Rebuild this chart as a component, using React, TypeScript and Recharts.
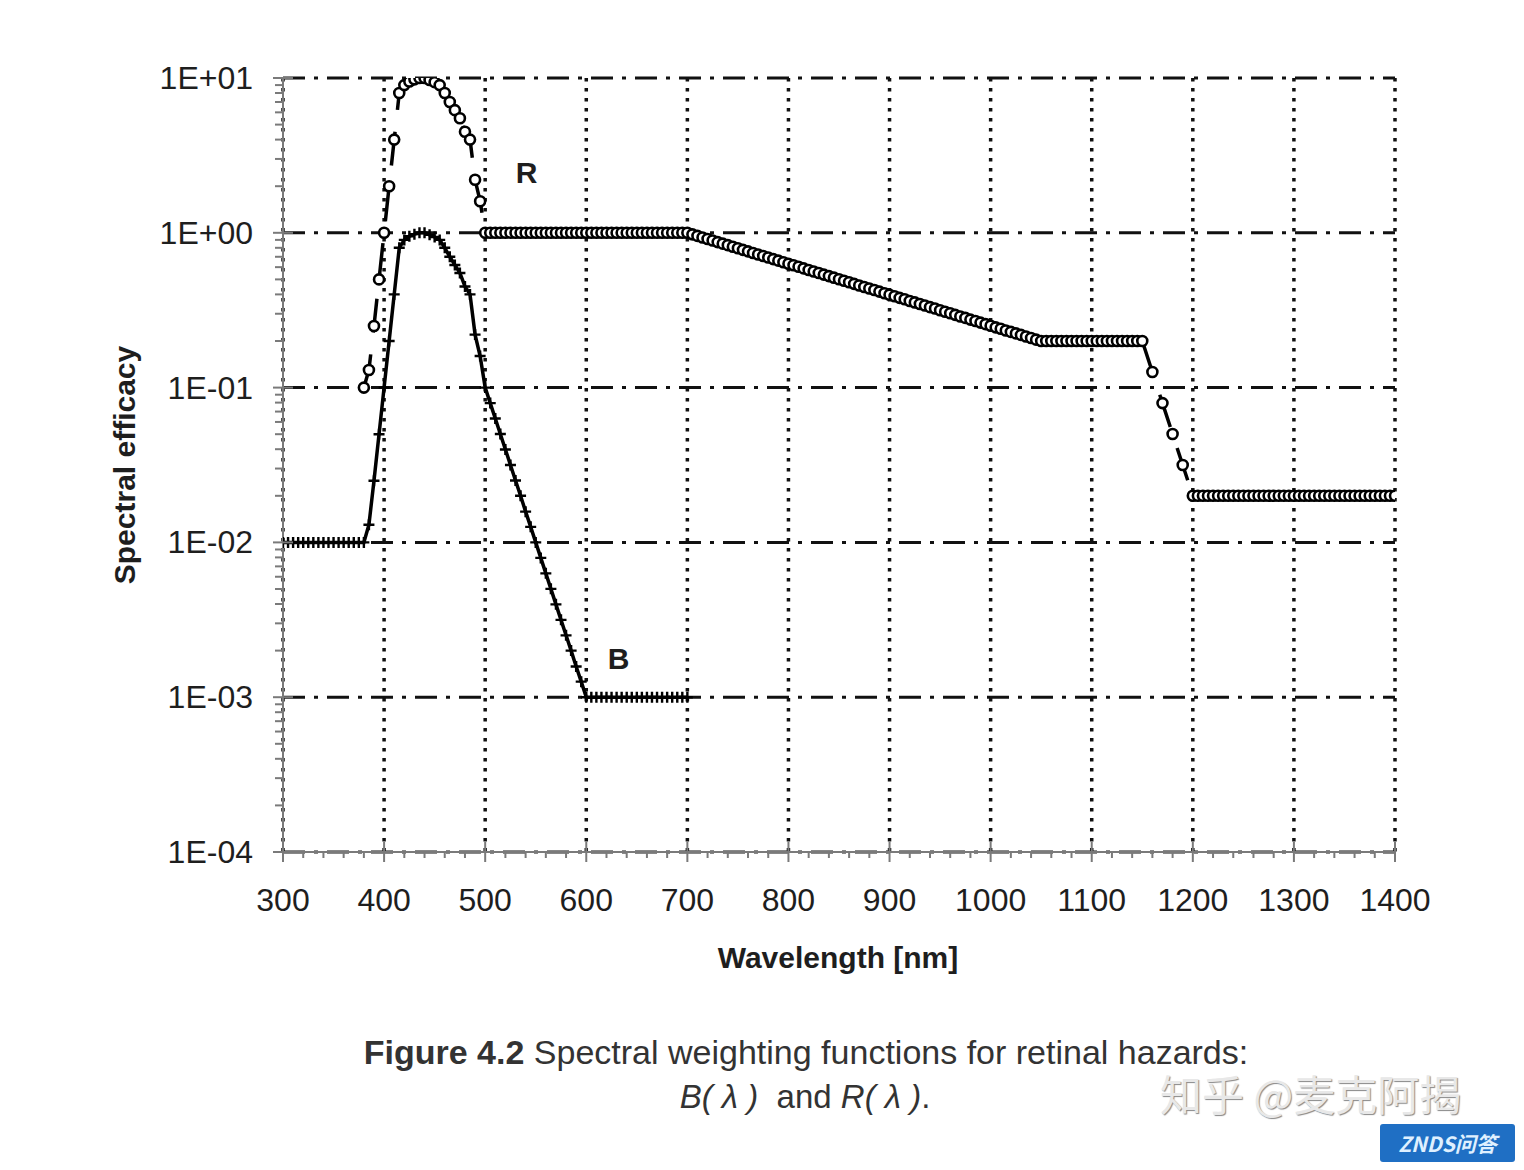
import React from 'react';
import { LineChart, Line, XAxis, YAxis, CartesianGrid, ReferenceDot } from 'recharts';

// Blue-light hazard B(λ)
const bWavelength = [
  300, 305, 310, 315, 320, 325, 330, 335, 340, 345, 350, 355, 360, 365, 370, 375,
  380, 385, 390, 395, 400, 405, 410, 415, 420, 425, 430, 435, 440, 445, 450, 455,
  460, 465, 470, 475, 480, 485, 490, 495, 500, 505, 510, 515, 520, 525, 530, 535,
  540, 545, 550, 555, 560, 565, 570, 575, 580, 585, 590, 595, 600, 605, 610, 615,
  620, 625, 630, 635, 640, 645, 650, 655, 660, 665, 670, 675, 680, 685, 690, 695, 700,
];
const bEfficacy = [
  0.01, 0.01, 0.01, 0.01, 0.01, 0.01, 0.01, 0.01, 0.01, 0.01, 0.01, 0.01, 0.01, 0.01, 0.01, 0.01,
  0.01, 0.013, 0.025, 0.05, 0.1, 0.2, 0.4, 0.8, 0.9, 0.95, 0.98, 1, 1, 0.97, 0.94, 0.9,
  0.8, 0.7, 0.62, 0.55, 0.45, 0.4, 0.22, 0.16, 0.1, 0.0794, 0.0631, 0.0501, 0.0398, 0.0316, 0.0251, 0.02,
  0.0158, 0.0126, 0.01, 0.00794, 0.00631, 0.00501, 0.00398, 0.00316, 0.00251, 0.002, 0.00158, 0.00126, 0.001, 0.001, 0.001, 0.001,
  0.001, 0.001, 0.001, 0.001, 0.001, 0.001, 0.001, 0.001, 0.001, 0.001, 0.001, 0.001, 0.001, 0.001, 0.001, 0.001, 0.001,
];

// Retinal thermal hazard R(λ)
const rWavelength = [
  380, 385, 390, 395, 400, 405, 410, 415, 420, 425, 430, 435, 440, 445, 450, 455, 460, 465, 470, 475, 480, 485, 490, 495,
  500, 505, 510, 515, 520, 525, 530, 535, 540, 545, 550, 555, 560, 565, 570, 575, 580, 585, 590, 595,
  600, 605, 610, 615, 620, 625, 630, 635, 640, 645, 650, 655, 660, 665, 670, 675, 680, 685, 690, 695,
  700, 705, 710, 715, 720, 725, 730, 735, 740, 745, 750, 755, 760, 765, 770, 775, 780, 785, 790, 795,
  800, 805, 810, 815, 820, 825, 830, 835, 840, 845, 850, 855, 860, 865, 870, 875, 880, 885, 890, 895,
  900, 905, 910, 915, 920, 925, 930, 935, 940, 945, 950, 955, 960, 965, 970, 975, 980, 985, 990, 995,
  1000, 1005, 1010, 1015, 1020, 1025, 1030, 1035, 1040, 1045, 1050, 1055, 1060, 1065, 1070, 1075, 1080, 1085, 1090, 1095,
  1100, 1105, 1110, 1115, 1120, 1125, 1130, 1135, 1140, 1145, 1150,
  1160, 1170, 1180, 1190,
  1200, 1205, 1210, 1215, 1220, 1225, 1230, 1235, 1240, 1245, 1250, 1255, 1260, 1265, 1270, 1275, 1280, 1285, 1290, 1295,
  1300, 1305, 1310, 1315, 1320, 1325, 1330, 1335, 1340, 1345, 1350, 1355, 1360, 1365, 1370, 1375, 1380, 1385, 1390, 1395, 1400,
];
const rEfficacy = [
  0.1, 0.13, 0.25, 0.5, 1, 2, 4, 8, 9, 9.5, 9.8, 10, 10, 9.7, 9.4, 9, 8, 7, 6.2, 5.5, 4.5, 4, 2.2, 1.6,
  1, 1, 1, 1, 1, 1, 1, 1, 1, 1, 1, 1, 1, 1, 1, 1, 1, 1, 1, 1,
  1, 1, 1, 1, 1, 1, 1, 1, 1, 1, 1, 1, 1, 1, 1, 1, 1, 1, 1, 1,
  1, 0.977, 0.955, 0.933, 0.912, 0.891, 0.871, 0.851, 0.832, 0.813, 0.794, 0.776, 0.759, 0.741, 0.724, 0.708, 0.692, 0.676, 0.661, 0.646,
  0.631, 0.617, 0.603, 0.589, 0.575, 0.562, 0.55, 0.537, 0.525, 0.513, 0.501, 0.49, 0.479, 0.468, 0.457, 0.447, 0.437, 0.427, 0.417, 0.407,
  0.398, 0.389, 0.38, 0.372, 0.363, 0.355, 0.347, 0.339, 0.331, 0.324, 0.316, 0.309, 0.302, 0.295, 0.288, 0.282, 0.275, 0.269, 0.263, 0.257,
  0.251, 0.245, 0.24, 0.234, 0.229, 0.224, 0.219, 0.214, 0.209, 0.204, 0.2, 0.2, 0.2, 0.2, 0.2, 0.2, 0.2, 0.2, 0.2, 0.2,
  0.2, 0.2, 0.2, 0.2, 0.2, 0.2, 0.2, 0.2, 0.2, 0.2, 0.2,
  0.126, 0.0794, 0.0501, 0.0316,
  0.02, 0.02, 0.02, 0.02, 0.02, 0.02, 0.02, 0.02, 0.02, 0.02, 0.02, 0.02, 0.02, 0.02, 0.02, 0.02, 0.02, 0.02, 0.02, 0.02,
  0.02, 0.02, 0.02, 0.02, 0.02, 0.02, 0.02, 0.02, 0.02, 0.02, 0.02, 0.02, 0.02, 0.02, 0.02, 0.02, 0.02, 0.02, 0.02, 0.02, 0.02,
];

const xMajorTicks = [300, 400, 500, 600, 700, 800, 900, 1000, 1100, 1200, 1300, 1400];
const yDecades = [0.0001, 0.001, 0.01, 0.1, 1, 10];
const yDecadeLabels = ['1E-04', '1E-03', '1E-02', '1E-01', '1E+00', '1E+01'];

const bData = bWavelength.map((w, i) => ({ w, v: bEfficacy[i] }));
const rData = rWavelength.map((w, i) => ({ w, v: rEfficacy[i] }));

// minor ticks: every 20 nm on x, 2..9 inside each decade on y
const xTicks: number[] = [];
for (let t = 300; t <= 1400; t += 20) xTicks.push(t);
const yTicks: number[] = [];
yDecades.forEach((d, i) => {
  yTicks.push(d);
  if (i < yDecades.length - 1) for (let k = 2; k <= 9; k++) yTicks.push(d * k);
});

const FONT = '"Liberation Sans", Arial, Helvetica, sans-serif';
const INK = '#1e1e1e';
const AXIS = '#7a7a7a';

const XTick = (props: any) => {
  const { x, y, payload } = props;
  const major = payload.value % 100 === 0;
  return (
    <g>
      <line x1={x} x2={x} y1={major ? y - 10 : y} y2={major ? y + 10 : y + 6} stroke={AXIS} strokeWidth={2} />
      {major && (
        <text x={x} y={y + 59} textAnchor="middle" fontSize={32} fill={INK} fontFamily={FONT}>
          {payload.value}
        </text>
      )}
    </g>
  );
};

const YTick = (props: any) => {
  const { x, y, payload } = props;
  const idx = yDecades.findIndex((d) => Math.abs(d - payload.value) / d < 1e-6);
  const major = idx >= 0;
  return (
    <g>
      <line x1={major ? x - 10 : x - 8} x2={major ? x + 10 : x} y1={y} y2={y} stroke={AXIS} strokeWidth={2} />
      {major && (
        <text x={x - 30} y={y + 11} textAnchor="end" fontSize={32} fill={INK} fontFamily={FONT}>
          {yDecadeLabels[idx]}
        </text>
      )}
    </g>
  );
};

const PlusDot = (props: any) => {
  const { cx, cy, index } = props;
  if (cx == null || cy == null) return <g key={`b-${index}`} />;
  return (
    <path
      key={`b-${index}`}
      d={`M${cx - 5.5},${cy}h11M${cx},${cy - 5.5}v11`}
      stroke="#000"
      strokeWidth={2.4}
      fill="none"
    />
  );
};

const CircleDot = (props: any) => {
  const { cx, cy, index } = props;
  if (cx == null || cy == null) return <g key={`r-${index}`} />;
  return <circle key={`r-${index}`} cx={cx} cy={cy} r={5} fill="#fff" stroke="#000" strokeWidth={2.6} />;
};

export default function App() {
  return (
    <div
      style={{
        position: 'absolute',
        left: 0,
        top: 0,
        width: 1524,
        height: 1170,
        background: '#fff',
        fontFamily: FONT,
        overflow: 'hidden',
      }}
    >
      <LineChart width={1524} height={1000} margin={{ top: 78, right: 129, left: 123, bottom: 88 }}>
        <CartesianGrid
          horizontal={false}
          verticalValues={xMajorTicks}
          stroke="#111"
          strokeWidth={3.5}
          strokeDasharray="3.5 6.5"
        />
        <CartesianGrid
          vertical={false}
          horizontalValues={yDecades}
          stroke="#111"
          strokeWidth={3}
          strokeDasharray="22 9 4 9"
        />
        <XAxis
          dataKey="w"
          type="number"
          domain={[300, 1400]}
          ticks={xTicks}
          interval={0}
          tick={<XTick />}
          tickLine={false}
          tickSize={0}
          tickMargin={0}
          height={60}
          axisLine={{ stroke: AXIS, strokeWidth: 2 }}
          allowDataOverflow
        />
        <YAxis
          dataKey="v"
          scale="log"
          type="number"
          domain={[0.0001, 10]}
          ticks={yTicks}
          interval={0}
          tick={<YTick />}
          tickLine={false}
          tickSize={0}
          tickMargin={0}
          width={160}
          axisLine={{ stroke: AXIS, strokeWidth: 2 }}
          allowDataOverflow
        />
        <Line
          data={bData}
          dataKey="v"
          stroke="#000"
          strokeWidth={3.5}
          dot={PlusDot}
          activeDot={false}
          isAnimationActive={false}
        />
        <Line
          data={rData}
          dataKey="v"
          stroke="#000"
          strokeWidth={3.5}
          strokeDasharray="34 22"
          dot={CircleDot}
          activeDot={false}
          isAnimationActive={false}
        />
        <ReferenceDot
          x={541}
          y={2.44}
          r={0}
          fill="none"
          stroke="none"
          label={{ value: 'R', position: 'center', fontSize: 30, fontWeight: 'bold', fill: INK, fontFamily: FONT }}
        />
        <ReferenceDot
          x={632}
          y={0.00179}
          r={0}
          fill="none"
          stroke="none"
          label={{ value: 'B', position: 'center', fontSize: 30, fontWeight: 'bold', fill: INK, fontFamily: FONT }}
        />
      </LineChart>

      {/* axis titles */}
      <div
        style={{
          position: 'absolute',
          left: 125,
          top: 465,
          transform: 'translate(-50%, -50%) rotate(-90deg)',
          whiteSpace: 'nowrap',
          fontSize: 30,
          fontWeight: 'bold',
          color: INK,
        }}
      >
        Spectral efficacy
      </div>
      <div
        style={{
          position: 'absolute',
          left: 838,
          top: 958,
          transform: 'translate(-50%, -50%)',
          whiteSpace: 'nowrap',
          fontSize: 30,
          fontWeight: 'bold',
          color: INK,
        }}
      >
        Wavelength [nm]
      </div>

      {/* caption */}
      <div
        style={{
          position: 'absolute',
          left: 806,
          top: 1052,
          transform: 'translate(-50%, -50%)',
          whiteSpace: 'nowrap',
          fontSize: 34,
          color: '#333',
        }}
      >
        <b>Figure 4.2</b> Spectral weighting functions for retinal hazards:
      </div>
      <div
        style={{
          position: 'absolute',
          left: 805,
          top: 1097,
          transform: 'translate(-50%, -50%)',
          whiteSpace: 'nowrap',
          fontSize: 33,
          color: '#333',
        }}
      >
        <i>B( λ )</i> &nbsp;and <i>R( λ )</i>.
      </div>

      {/* watermark */}
      <div
        style={{
          position: 'absolute',
          left: 1160,
          top: 1072,
          fontSize: 42,
          lineHeight: 1,
          color: '#e8e8e8',
          textShadow: '1px 1px 1px #888',
          fontFamily: '"Noto Sans CJK SC", sans-serif',
          whiteSpace: 'nowrap',
        }}
      >
        知乎 @麦克阿揭
      </div>
      <div
        style={{
          position: 'absolute',
          left: 1380,
          top: 1124,
          width: 135,
          height: 38,
          background: '#1f6fc4',
          borderRadius: 3,
          color: '#dff0ff',
          fontSize: 21,
          lineHeight: 1,
          fontWeight: 'bold',
          fontStyle: 'italic',
          display: 'flex',
          alignItems: 'center',
          justifyContent: 'center',
          fontFamily: '"Noto Sans CJK SC", sans-serif',
        }}
      >
        ZNDS问答
      </div>
    </div>
  );
}
